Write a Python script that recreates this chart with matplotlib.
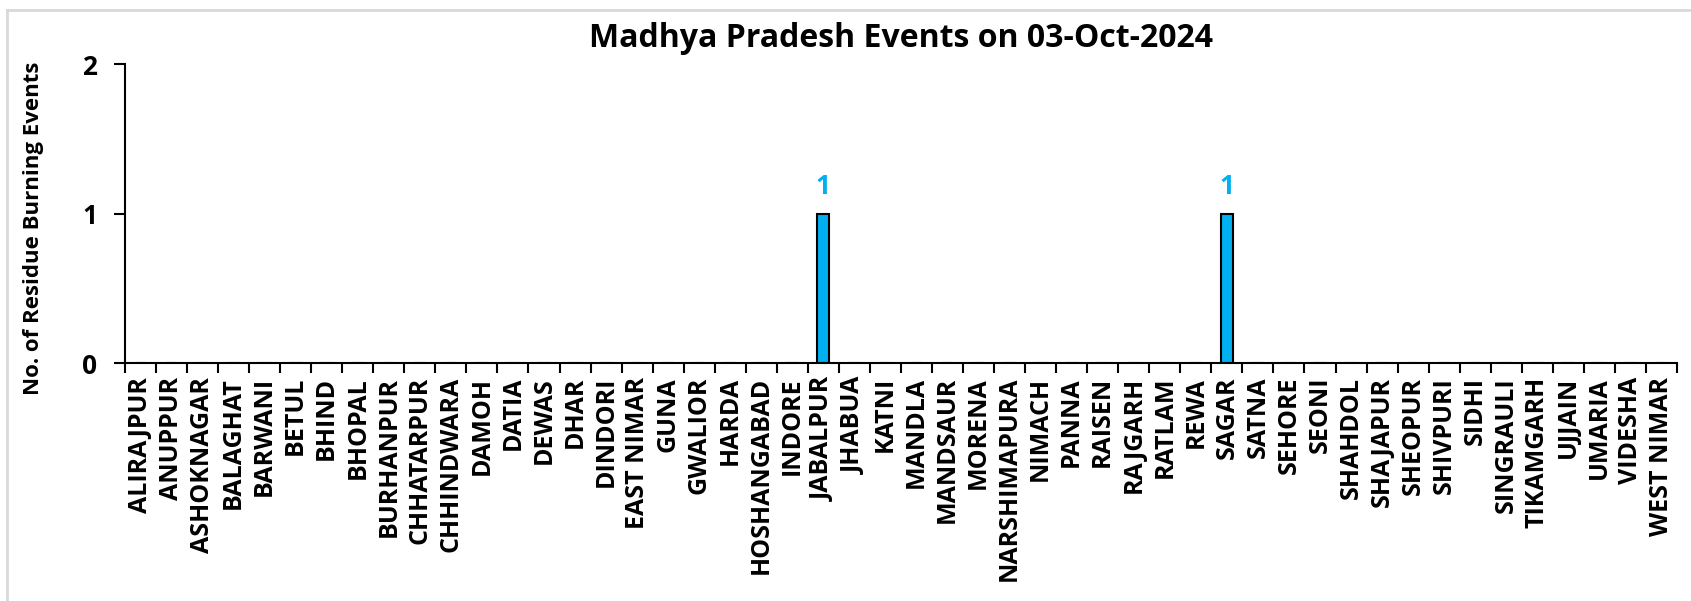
import numpy as np
import matplotlib.pyplot as plt
from matplotlib.lines import Line2D

districts = ['ALIRAJPUR', 'ANUPPUR', 'ASHOKNAGAR', 'BALAGHAT', 'BARWANI', 'BETUL',
             'BHIND', 'BHOPAL', 'BURHANPUR', 'CHHATARPUR', 'CHHINDWARA', 'DAMOH',
             'DATIA', 'DEWAS', 'DHAR', 'DINDORI', 'EAST NIMAR', 'GUNA', 'GWALIOR',
             'HARDA', 'HOSHANGABAD', 'INDORE', 'JABALPUR', 'JHABUA', 'KATNI',
             'MANDLA', 'MANDSAUR', 'MORENA', 'NARSHIMAPURA', 'NIMACH', 'PANNA',
             'RAISEN', 'RAJGARH', 'RATLAM', 'REWA', 'SAGAR', 'SATNA', 'SEHORE',
             'SEONI', 'SHAHDOL', 'SHAJAPUR', 'SHEOPUR', 'SHIVPURI', 'SIDHI',
             'SINGRAULI', 'TIKAMGARH', 'UJJAIN', 'UMARIA', 'VIDESHA', 'WEST NIMAR']
events = [0] * len(districts)
events[districts.index('JABALPUR')] = 1
events[districts.index('SAGAR')] = 1

yticks = [0, 1, 2]

plt.rcParams['font.family'] = ['Open Sans', 'DejaVu Sans']
plt.rcParams['font.weight'] = 'bold'

fig = plt.figure(figsize=(16.91, 6.01), dpi=100)
# light grey chart-area border (only top and left edges show in the crop)
bx, by = 6.5 / 1691, 1 - 9.5 / 601
fig.lines.append(Line2D([bx, 1], [by, by], transform=fig.transFigure,
                        color='#D9D9D9', linewidth=2))
fig.lines.append(Line2D([bx, bx], [0, by], transform=fig.transFigure,
                        color='#D9D9D9', linewidth=2))

ax = fig.add_axes([0.0739, 0.396, 0.9178, 0.4975])

x = np.arange(len(districts))
ax.bar(x, events, width=0.38, color='#00B0F0', edgecolor='black', linewidth=1.5)

for xi, v in zip(x, events):
    if v > 0:
        ax.text(xi, v + 0.09, str(v), ha='center', va='bottom', color='#00B0F0',
                fontsize=19, fontweight='bold')

ax.set_xlim(-0.5, len(districts) - 0.5)
ax.set_ylim(0, 2)
ax.set_yticks(yticks)
ax.set_yticklabels([str(t) for t in yticks], fontsize=19, fontweight='bold')
ax.set_xticks(x)
ax.set_xticklabels(districts, rotation=90, fontsize=18, fontweight='bold')
ax.tick_params(axis='x', which='major', length=0, pad=10)
ax.set_xticks(np.arange(-0.5, len(districts), 1), minor=True)
ax.tick_params(axis='x', which='minor', length=7, width=1.5, direction='out')
ax.tick_params(axis='y', length=8, width=1.5, pad=12)

for s in ['top', 'right']:
    ax.spines[s].set_visible(False)
for s in ['left', 'bottom']:
    ax.spines[s].set_linewidth(1.5)

ax.set_ylabel('No. of Residue Burning Events', fontsize=16, fontweight='bold')
ax.yaxis.set_label_coords(-0.052, 0.45)
ax.set_title('Madhya Pradesh Events on 03-Oct-2024', fontsize=23, fontweight='bold', pad=12)

fig.savefig('out.png', dpi=100)
